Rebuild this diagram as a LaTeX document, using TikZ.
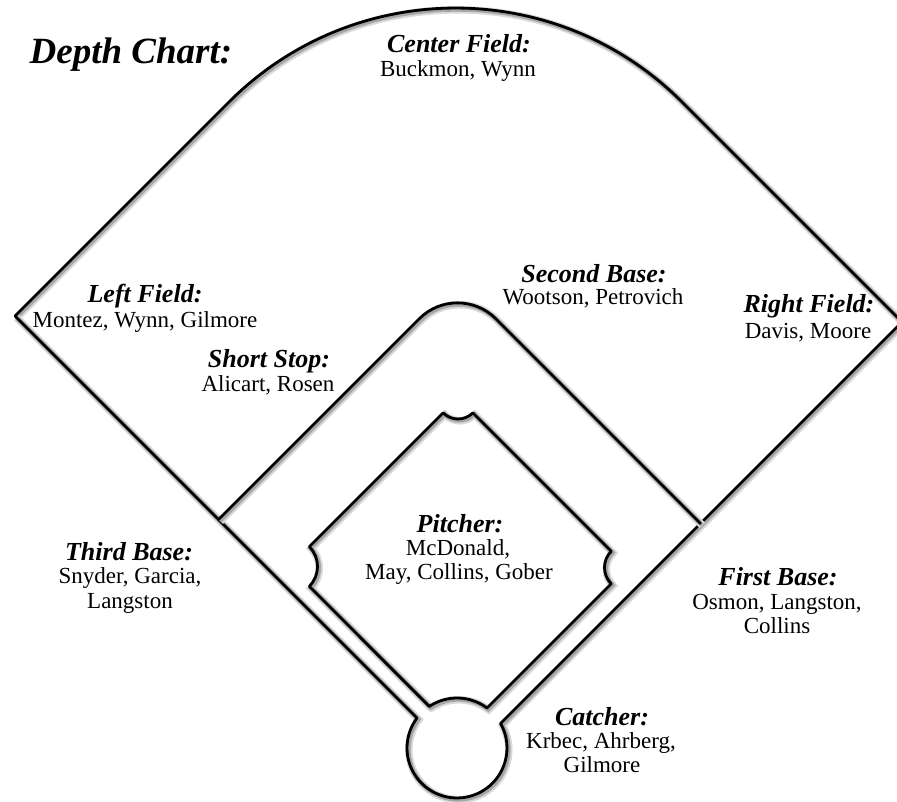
\documentclass[tikz,border=0pt]{standalone}
\usepackage{fontspec}
\setmainfont{Liberation Serif}
\usepackage{xcolor}
\usepackage{tikz}
\tikzset{
  fieldline/.style={line width=2.8pt,line join=round,line cap=round,
    preaction={draw=black!15,line width=7.5pt,transform canvas={xshift=1.8pt,yshift=-1.8pt}},
    preaction={draw=black!35,line width=4.5pt,transform canvas={xshift=1.4pt,yshift=-1.4pt}}},
  poshead/.style={font=\fontsize{26}{28}\selectfont\bfseries\itshape,anchor=base,inner sep=0pt},
  posnames/.style={font=\fontsize{23}{24}\selectfont,anchor=base,inner sep=0pt}
}
\begin{document}
\begin{tikzpicture}[x=1pt,y=-1pt]
  \useasboundingbox(0,0)rectangle(897,802);
  \clip(0,0)rectangle(897,802);
  % corners of the field
  \coordinate(lc)at(15,316);\coordinate(rc)at(902,322);\coordinate(fa)at(455.5,-124.5);
  \coordinate(tb)at(218.5,519.5);\coordinate(fb)at(700.5,523.5);\coordinate(ia)at(457.5,280.5);
  \coordinate(hl)at(417,718);\coordinate(hr)at(500.56,723.45);
  % fence, foul lines and home circle
  \draw[fieldline,rounded corners=320pt](lc)--(fa)--(rc);
  \draw[fieldline](rc)--(hr)arc[start angle=-29.4,end angle=216.87,radius=50]--(lc);
  % infield edge
  \draw[fieldline,rounded corners=54pt](tb)--(ia)--(fb);
  % grass with the base cut-outs
  \draw[fieldline](429.3,706.35)--(309.3,586.3)arc[start angle=45,end angle=-45,radius=28]
    --(443.15,412.85)arc[start angle=135,end angle=45,radius=21]
    --(611.24,551.24)arc[start angle=225,end angle=135,radius=23]
    --(487,708)arc[start angle=-53.13,end angle=-123.6,radius=50]--cycle;
  \node[poshead,font=\fontsize{37}{40}\selectfont\bfseries\itshape](title)at(131,64){Depth Chart:};
  \foreach \x/\y/\t/\n in {459/53/{Center Field:}/cf,145/303/{Left Field:}/lf,
      269/367/{Short Stop:}/ss,594/283/{Second Base:}/sb,809/313/{Right Field:}/rf,
      129/560/{Third Base:}/tbh,460/532/{Pitcher:}/p,778/585/{First Base:}/fbh,602/725/{Catcher:}/c}
    \node[poshead](\n)at(\x,\y){\t};
  \foreach \x/\y/\t[count=\i] in {458/77/{Buckmon, Wynn},145/328/{Montez, Wynn, Gilmore},
      268/391/{Alicart, Rosen},593/305/{Wootson, Petrovich},808/338/{Davis, Moore},
      130/583/{Snyder, Garcia,},130/608/{Langston},458/555/{McDonald,},459/579/{May, Collins, Gober},
      777/609/{Osmon, Langston,},777/633/{Collins},601/748/{Krbec, Ahrberg,},602/772/{Gilmore}}
    \node[posnames](names\i)at(\x,\y){\t};
\end{tikzpicture}
\end{document}
